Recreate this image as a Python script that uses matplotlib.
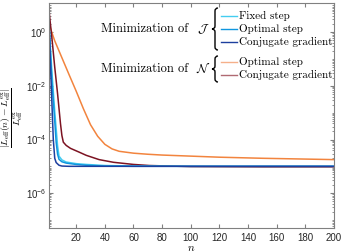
import numpy as np
import matplotlib
matplotlib.use("Agg")
import matplotlib.pyplot as plt
from matplotlib.path import Path
from matplotlib.patches import PathPatch
from matplotlib.ticker import LogLocator, FixedLocator, NullFormatter

plt.rcParams['mathtext.fontset'] = 'cm'
plt.rcParams['font.family'] = ['Liberation Sans', 'DejaVu Sans']

# ---- data (log10 of relative error) ----
n_fixed_J = [1, 2, 3, 4, 5, 6, 7, 8, 10, 13, 20, 27, 40, 60, 100, 200]
e_fixed_J = [0.3, -0.6, -1.45, -2.2, -2.95, -3.6, -4.25, -4.62, -4.76, -4.84, -4.9, -4.93, -4.97, -4.99, -5.0, -5.0]

n_opt_J = [1, 2, 3, 4, 5, 6, 7, 8, 10, 13, 20, 27, 40, 60, 200]
e_opt_J = [0.3, -0.75, -1.8, -2.55, -3.3, -4.1, -4.55, -4.74, -4.83, -4.88, -4.93, -4.96, -4.99, -5.0, -5.0]

n_cg_J = [1, 2, 3, 4, 5, 6, 8, 10, 15, 200]
e_cg_J = [0.3, -1.2, -2.6, -4.0, -4.7, -4.86, -4.96, -4.99, -5.0, -5.0]

n_opt_N = [1, 5, 10, 15, 20, 25, 30, 35, 40, 45, 50, 60, 70, 80, 100, 120, 150, 200]
e_opt_N = [0.3, -0.32, -0.95, -1.58, -2.2, -2.85, -3.45, -3.88, -4.18, -4.35, -4.44, -4.51, -4.55, -4.58, -4.62, -4.66, -4.7, -4.75]

n_cg_N = [1, 2, 3, 4, 5, 6, 7, 8, 9, 10, 11, 13, 16, 22, 27, 36, 46, 60, 71, 100, 150, 200]
e_cg_N = [0.82, 0.3, -0.2, -0.75, -1.3, -1.8, -2.3, -2.85, -3.4, -3.85, -4.1, -4.22, -4.33, -4.47, -4.59, -4.75, -4.85, -4.93, -4.97, -5.01, -5.02, -5.02]

x_ticks = [20, 40, 60, 80, 100, 120, 140, 160, 180, 200]
y_ticks = [1e-6, 1e-4, 1e-2, 1e0]

labels_J = ['Fixed step', 'Optimal step', 'Conjugate gradient']
labels_N = ['Optimal step', 'Conjugate gradient']

c_fixed = '#44cdf0'
c_opt = '#0f96df'
c_cgJ = '#1d3f9e'
c_optN = '#f2843e'
c_cgN = '#7c1322'

W, H = 345, 252
fig = plt.figure(figsize=(W / 100, H / 100), dpi=100)
ax = fig.add_axes([49 / W, 1 - 228 / H, (334 - 49) / W, (228 - 3) / H])

lw = 1.1
series = [
    (n_opt_N, e_opt_N, c_optN),
    (n_cg_N, e_cg_N, c_cgN),
    (n_fixed_J, e_fixed_J, c_fixed),
    (n_opt_J, e_opt_J, c_opt),
    (n_cg_J, e_cg_J, c_cgJ),
]
for nn, ee, cc in series:
    ax.plot(nn, 10 ** np.array(ee), color=cc, lw=lw, solid_joinstyle='round')

ax.set_yscale('log')
ax.set_xlim(1, 200)
ax.set_ylim(10 ** -7.3, 10 ** 1.09)
ax.xaxis.set_major_locator(FixedLocator(x_ticks))
ax.yaxis.set_major_locator(FixedLocator(y_ticks))
ax.yaxis.set_minor_locator(LogLocator(base=10, subs=np.arange(1, 10), numticks=50))
ax.yaxis.set_minor_formatter(NullFormatter())

axcol = '#808080'
for s in ax.spines.values():
    s.set_color(axcol)
    s.set_linewidth(0.8)
ax.tick_params(which='both', direction='in', top=True, right=True, colors=axcol,
               labelcolor='#262626', labelsize=7)
ax.tick_params(axis='y', which='major', pad=2)
ax.tick_params(which='major', length=3)
ax.tick_params(which='minor', length=1.5)

ax.set_xlabel(r'$n$', fontsize=8, labelpad=0)
fig.text(12 / W, 1 - 118 / H,
         r'$\dfrac{|L_{\mathrm{eff}}(n)-L_{\mathrm{eff}}^{\mathrm{ex}}|}{L_{\mathrm{eff}}^{\mathrm{ex}}}$',
         rotation=90, ha='center', va='center', fontsize=7)


def fx(px):
    return px / W


def fy(py):
    return 1 - py / H


def brace(x0, y_top, y_bot, width=6):
    xm = x0 + width / 2
    x1 = x0 + width
    ymid = (y_top + y_bot) / 2
    d = 3
    verts = [
        (x1, y_top), (xm, y_top), (xm, y_top + d),
        (xm, ymid - d),
        (xm, ymid), (x0, ymid), (x0, ymid),
        (xm, ymid), (xm, ymid + d),
        (xm, y_bot - d),
        (xm, y_bot), (x1, y_bot), (x1, y_bot),
    ]
    codes = [Path.MOVETO, Path.CURVE3, Path.CURVE3,
             Path.LINETO,
             Path.CURVE3, Path.CURVE3, Path.LINETO,
             Path.CURVE3, Path.CURVE3,
             Path.LINETO,
             Path.CURVE3, Path.CURVE3, Path.LINETO]
    verts = [(fx(a), fy(b)) for a, b in verts]
    p = PathPatch(Path(verts, codes), transform=fig.transFigure, fill=False,
                  lw=1.0, edgecolor='black')
    fig.add_artist(p)


txt_kw = dict(fontsize=8, family='cmr10', va='center')
grp_kw = dict(fontsize=9, family='cmr10', va='center')

# group J
rows_J = [16, 29, 42]
for (y, lab, cc) in zip(rows_J, labels_J, [c_fixed, c_opt, c_cgJ]):
    fig.add_artist(plt.Line2D([fx(221), fx(237)], [fy(y), fy(y)], color=cc, lw=1.0,
                              transform=fig.transFigure))
    fig.text(fx(239), fy(y), lab, ha='left', **txt_kw)
brace(212, 8, 50)
fig.text(fx(188), fy(29), 'Minimization of', ha='right', **grp_kw)
fig.text(fx(203), fy(29), r'$\mathcal{J}$', ha='center', **grp_kw)

# group N
rows_N = [62, 75]
for (y, lab, cc) in zip(rows_N, labels_N, ['#f5b08a', '#b06a72']):
    fig.add_artist(plt.Line2D([fx(221), fx(237)], [fy(y), fy(y)], color=cc, lw=1.0,
                              transform=fig.transFigure))
    fig.text(fx(239), fy(y), lab, ha='left', **txt_kw)
brace(212, 56, 82)
fig.text(fx(188), fy(69), 'Minimization of', ha='right', **grp_kw)
fig.text(fx(203), fy(69), r'$\mathcal{N}$', ha='center', **grp_kw)

fig.savefig('out.png', dpi=100)
